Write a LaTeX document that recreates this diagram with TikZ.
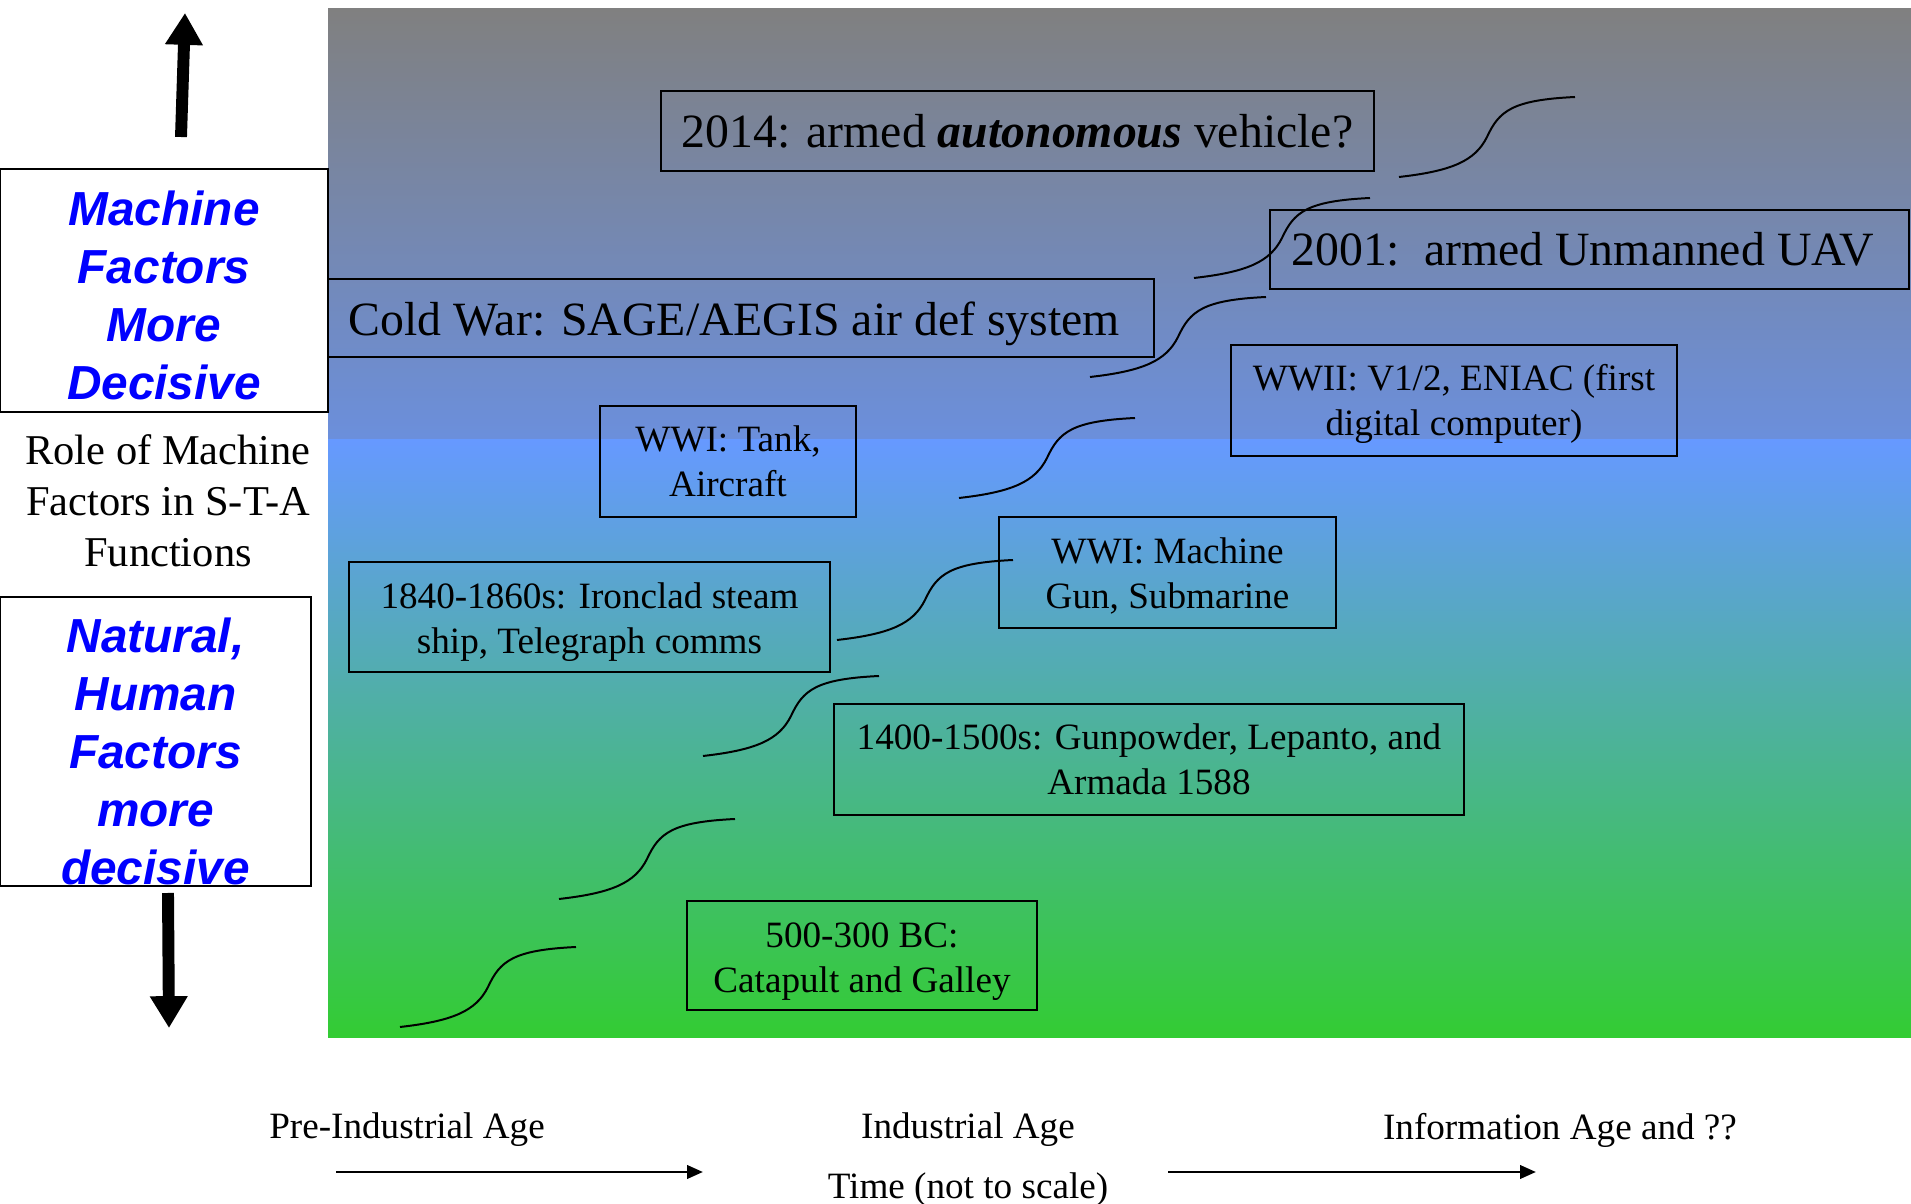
\documentclass[tikz,border=0pt]{standalone}
\usepackage{fontspec}
\setmainfont{Liberation Serif}
\newfontfamily\arialfont{Liberation Sans}
\usetikzlibrary{arrows.meta}

\definecolor{skygray}{HTML}{808080}
\definecolor{skyblue}{HTML}{6B8FDC}
\definecolor{fieldblue}{HTML}{6699FF}
\definecolor{fieldgreen}{HTML}{33CC33}
\def\upx{0.3768pt}
% invisible strut that pushes the first line down a little
\newcommand{\padtop}[1]{\rule{0pt}{#1}}

\begin{document}
\begin{tikzpicture}[
    x=0.3768pt, y=-0.3768pt,
    era/.style={draw, line width=0.75pt, align=center, inner sep=0pt, font=\fontsize{14}{17}\selectfont},
    bigera/.style={era, font=\fontsize{18}{21.6}\selectfont},
    factor/.style={draw, fill=white, line width=1.1pt, align=center, inner sep=0pt, text=blue, font=\arialfont\bfseries\itshape\fontsize{18}{21.8}\selectfont},
    agelabel/.style={font=\fontsize{14}{17}\selectfont},
    thickarrow/.style={line width=4.5pt, -{Triangle[length=12pt, width=13.5pt]}},
    timearrow/.style={line width=1.1pt, -{Triangle[length=6pt, width=5pt]}},
    riser/.pic={\draw[line width=0.75pt] (0,0) .. controls (53,-6) and (76,-16) .. (88,-40) .. controls (100,-66) and (113,-77) .. (176,-80);}
]
    \useasboundingbox (0,0) rectangle (1911,1204);

    % Background: gray to blue above, blue to green below
    \shade[top color=skygray, bottom color=skyblue] (328,9) rectangle (1911,440);
    \shade[top color=fieldblue, bottom color=fieldgreen] (328,440) rectangle (1911,1038);

    % Left side: role of machine factors
    \node[factor, minimum width=328*\upx, minimum height=243*\upx] (machine) at (164,290.5) {\padtop{16.7pt}Machine\\Factors\\More\\Decisive};
    \node[factor, minimum width=311*\upx, minimum height=289*\upx] (natural) at (155.5,741.5) {\padtop{20.5pt}Natural,\\Human\\Factors\\more\\decisive};
    \node[align=center, font=\fontsize{16}{19.2}\selectfont] (role) at (168,501) {Role of Machine\\Factors in S-T-A\\Functions};

    \coordinate (upfoot) at (181,137);
    \coordinate (uptip) at (185,13);
    \coordinate (downfoot) at (168,893);
    \coordinate (downtip) at (169,1028);
    \draw[thickarrow] (upfoot) -- (uptip);
    \draw[thickarrow] (downfoot) -- (downtip);

    % Steps of the S-curve
    \foreach \sx/\sy in {400/1027, 559/899, 703/756, 837/640, 959/498, 1090/377, 1194/278, 1399/177}
        \pic at (\sx,\sy) {riser};

    % Eras
    \node[bigera, minimum width=713*\upx, minimum height=80*\upx] (auto14) at (1017.5,131) {2014: armed \textbf{\textit{autonomous}} vehicle?};
    \node[bigera, minimum width=639*\upx, minimum height=79*\upx] (uav01) at (1589.5,249.5) {2001:\ \ armed Unmanned UAV\hspace*{5pt}};
    \node[bigera, minimum width=826*\upx, minimum height=78*\upx] (coldwar) at (741,318) {\padtop{17.1pt}Cold War: SAGE/AEGIS air def system\hspace*{5pt}};
    \node[era, minimum width=446*\upx, minimum height=111*\upx] (wwii) at (1454,400.5) {\padtop{12.7pt}WWII: V1/2, ENIAC (first\\digital computer)};
    \node[era, minimum width=256*\upx, minimum height=111*\upx] (wwitank) at (728,461.5) {WWI: Tank,\\Aircraft};
    \node[era, minimum width=337*\upx, minimum height=111*\upx] (wwigun) at (1167.5,572.5) {\padtop{12.6pt}WWI: Machine\\Gun, Submarine};
    \node[era, minimum width=481*\upx, minimum height=110*\upx] (ironclad) at (589.5,617) {\padtop{13.4pt}1840-1860s: Ironclad steam\\ship, Telegraph comms};
    \node[era, minimum width=630*\upx, minimum height=111*\upx] (gunpowder) at (1149,759.5) {1400-1500s: Gunpowder, Lepanto, and\\Armada 1588};
    \node[era, minimum width=350*\upx, minimum height=109*\upx] (catapult) at (862,955.5) {\padtop{14.1pt}500-300 BC:\\Catapult and Galley};

    % Time axis
    \node[agelabel] (preind) at (407,1130) {Pre-Industrial Age};
    \node[agelabel] (industrial) at (968,1130) {Industrial Age};
    \node[agelabel] (timenote) at (968,1190) {Time (not to scale)};
    \node[agelabel] (infoage) at (1560,1130) {Information Age and ??};

    \coordinate (preA) at (336,1172);
    \coordinate (preB) at (703,1172);
    \coordinate (infoA) at (1168,1172);
    \coordinate (infoB) at (1536,1172);
    \draw[timearrow] (preA) -- (preB);
    \draw[timearrow] (infoA) -- (infoB);

\end{tikzpicture}
\end{document}
